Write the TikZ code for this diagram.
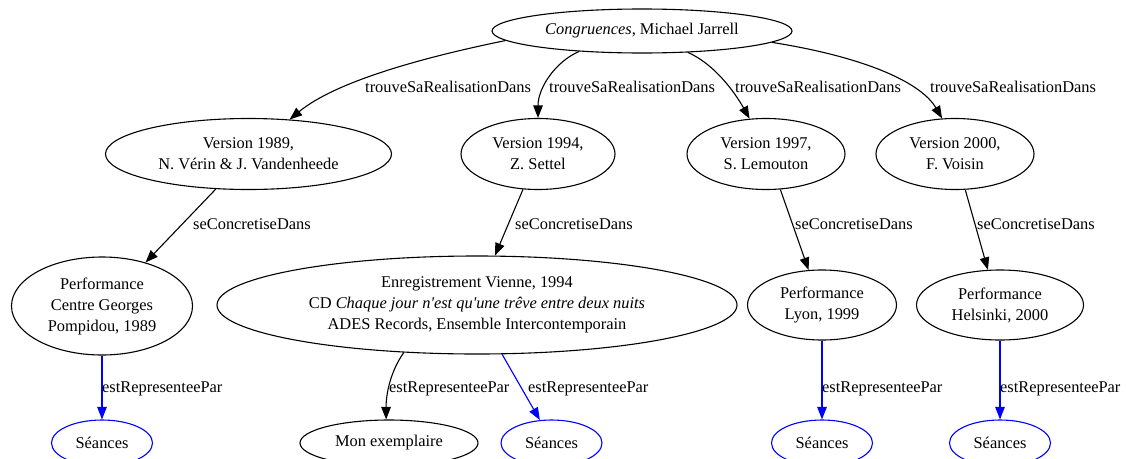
\documentclass[tikz,border=0pt]{standalone}
\usepackage{fontspec}
\setmainfont{Liberation Serif}
\usetikzlibrary{shapes.geometric,arrows.meta}
\begin{document}
\begin{tikzpicture}[x=1pt,y=-1pt,
  every node/.style={font=\fontsize{16.4}{21}\selectfont},
  gnode/.style={ellipse,draw,line width=1.1pt,inner sep=0pt,align=center},
  bnode/.style={gnode,draw=blue},
  sz/.style 2 args={minimum width=#1pt,minimum height=#2pt},
  link/.style={line width=1.1pt,-{Triangle[length=12.5pt,width=9.5pt]}},
  blink/.style={link,draw=blue,fill=blue},
  lbl/.style={anchor=west,inner sep=0pt}]
\useasboundingbox (0,0) rectangle (1126,458);
% nodes
\node[gnode,sz={300}{44}] (top) at (642,31) {\textit{Congruences}, Michael Jarrell};
\node[gnode,sz={286}{71}] (v89) at (248.5,154) {Version 1989,\\N. Vérin \& J. Vandenheede};
\node[gnode,sz={154}{71}] (v94) at (538,154) {Version 1994,\\Z. Settel};
\node[gnode,sz={158}{71}] (v97) at (766,154) {Version 1997,\\S. Lemouton};
\node[gnode,sz={158}{71}] (v2k) at (955,154) {Version 2000,\\F. Voisin};
\node[gnode,sz={181}{98}] (pomp) at (102,306) {Performance\\Centre Georges\\Pompidou, 1989};
\node[gnode,sz={520}{98}] (big) at (477,305) {Enregistrement Vienne, 1994\\CD \textit{Chaque jour n\textquotesingle est qu\textquotesingle une trêve entre deux nuits}\\ADES Records, Ensemble Intercontemporain};
\node[gnode,sz={149}{70}] (lyon) at (822,305) {Performance\\Lyon, 1999};
\node[gnode,sz={167}{70}] (hels) at (1000,305) {Performance\\Helsinki, 2000};
\node[bnode,sz={101}{46}] (s1) at (102,443) {Séances};
\node[gnode,sz={178}{46}] (mon) at (389,443) {Mon exemplaire};
\node[bnode,sz={101}{46}] (s2) at (551.5,443) {Séances};
\node[bnode,sz={101}{46}] (s3) at (822,443) {Séances};
\node[bnode,sz={101}{46}] (s4) at (1000,443) {Séances};
% edges
\draw[link] (top.184) .. controls (420,58) and (335,82) .. (v89.40);
\draw[link] (top.198) .. controls (555,62) and (538,88) .. (v94.north);
\draw[link] (top.335) .. controls (718,66) and (738,98) .. (v97.115);
\draw[link] (top.355) .. controls (870,58) and (922,84) .. (v2k.110);
\draw[link] (v89.227) -- (pomp.45);
\draw[link] (v94.247) -- (big.70);
\draw[link] (v97.292) -- (lyon.111);
\draw[link] (v2k.286) -- (hels.109);
\draw[blink] (pomp) -- (s1);
\draw[link] (big.213) .. controls (390,372) and (386,395) .. (mon.97);
\draw[blink] (big.297) -- (s2.117);
\draw[blink] (lyon) -- (s3);
\draw[blink] (hels) -- (s4);
% labels
\node[lbl] (t1) at (365,87) {trouveSaRealisationDans};
\node[lbl] (t2) at (549,87) {trouveSaRealisationDans};
\node[lbl] (t3) at (735,87) {trouveSaRealisationDans};
\node[lbl] (t4) at (930,87) {trouveSaRealisationDans};
\node[lbl] (c1) at (193,224) {seConcretiseDans};
\node[lbl] (c2) at (515,224) {seConcretiseDans};
\node[lbl] (c3) at (795,224) {seConcretiseDans};
\node[lbl] (c4) at (977,224) {seConcretiseDans};
\node[lbl] (r1) at (102,389) {estRepresenteePar};
\node[lbl] (r2) at (389,389) {estRepresenteePar};
\node[lbl] (r3) at (528,389) {estRepresenteePar};
\node[lbl] (r4) at (822,389) {estRepresenteePar};
\node[lbl] (r5) at (1000,389) {estRepresenteePar};
\end{tikzpicture}
\end{document}
